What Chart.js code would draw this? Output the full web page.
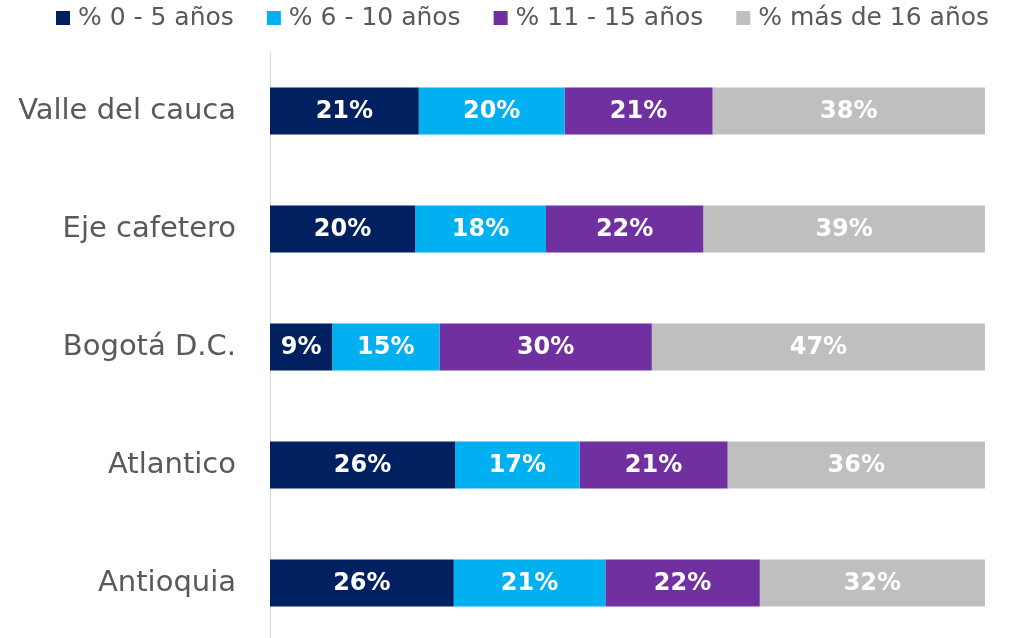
<!DOCTYPE html>
<html><head><meta charset="utf-8">
<script src="https://cdn.jsdelivr.net/npm/chart.js@4.4.0/dist/chart.umd.min.js"></script>
<style>html,body{margin:0;padding:0;overflow:hidden;background:#fff;width:1013px;height:638px}canvas{display:block;width:1013px;height:642px}</style>
</head><body><canvas id="c" width="1013" height="642"></canvas>
<script>
const categories = ['Valle del cauca', 'Eje cafetero', 'Bogotá D.C.', 'Atlantico', 'Antioquia'];
const seriesNames = ['% 0 - 5 años', '% 6 - 10 años', '% 11 - 15 años', '% más de 16 años'];
const age0to5   = [20.8, 20.3,  8.7, 25.9, 25.7];
const age6to10  = [20.4, 18.3, 15.0, 17.4, 21.2];
const age11to15 = [20.7, 22.0, 29.7, 20.7, 21.6];
const age16plus = [38.1, 39.4, 46.6, 36.0, 31.5];
const seriesColors = ['#002060', '#00B0F0', '#7030A0', '#BFBFBF'];

const FONT = "'DejaVu Sans', sans-serif";
const TEXT_COLOR = '#595959';

const seriesValues = [age0to5, age6to10, age11to15, age16plus];
const datasets = seriesValues.map((vals, i) => ({
  label: seriesNames[i],
  data: vals,
  backgroundColor: seriesColors[i],
  borderWidth: 0,
  barPercentage: 0.8,
  categoryPercentage: 0.5
}));

const barLabels = {
  id: 'barLabels',
  afterDatasetsDraw(chart) {
    const ctx = chart.ctx;
    ctx.save();
    ctx.font = "bold 24px " + FONT;
    ctx.fillStyle = '#ffffff';
    ctx.textAlign = 'center';
    ctx.textBaseline = 'middle';
    chart.data.datasets.forEach((ds, di) => {
      chart.getDatasetMeta(di).data.forEach((el, i) => {
        const p = el.getProps(['x', 'y', 'base'], true);
        ctx.fillText(Math.round(ds.data[i]) + '%', (p.x + p.base) / 2, p.y + 1);
      });
    });
    ctx.restore();
  }
};

const customLegend = {
  id: 'customLegend',
  afterDraw(chart) {
    const ctx = chart.ctx;
    ctx.save();
    ctx.font = "25px " + FONT;
    ctx.textBaseline = 'middle';
    ctx.textAlign = 'left';
    let x = 56;
    const yc = 18;
    chart.data.datasets.forEach(ds => {
      ctx.fillStyle = ds.backgroundColor;
      ctx.fillRect(x, yc - 7, 14, 14);
      x += 14 + 8;
      ctx.fillStyle = TEXT_COLOR;
      ctx.fillText(ds.label, x, yc);
      x += ctx.measureText(ds.label).width + 33;
    });
    ctx.restore();
  }
};

new Chart(document.getElementById('c'), {
  type: 'bar',
  data: { labels: categories, datasets },
  options: {
    indexAxis: 'y',
    responsive: false,
    maintainAspectRatio: false,
    animation: false,
    layout: { padding: { top: 52, right: 28, bottom: 0, left: 0 } },
    plugins: { legend: { display: false }, tooltip: { enabled: false } },
    scales: {
      x: { stacked: true, min: 0, max: 100, display: false },
      y: {
        stacked: true,
        grid: { display: false },
        border: { display: true, color: '#D9D9D9', width: 1 },
        ticks: { color: TEXT_COLOR, font: { family: FONT, size: 29 }, padding: 26 },
        afterFit(scale) { scale.width = 270; scale.paddingTop = 0; scale.paddingBottom = 0; }
      }
    }
  },
  plugins: [barLabels, customLegend]
});
</script>
</body></html>
